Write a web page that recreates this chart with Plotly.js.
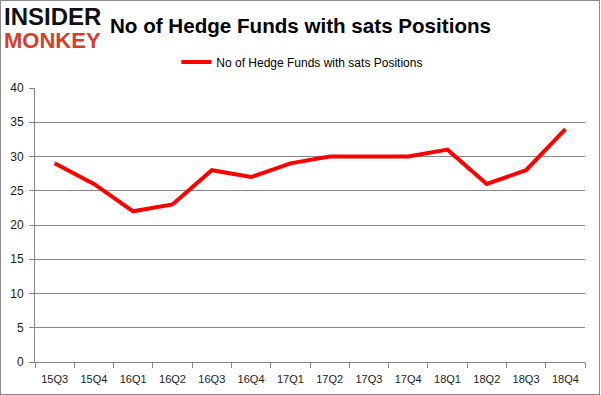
<!DOCTYPE html>
<html>
<head>
<meta charset="utf-8">
<script src="https://cdn.plot.ly/plotly-3.0.1.min.js"></script>
<style>
  html, body { margin: 0; padding: 0; background: #fff; }
  #wrap { position: relative; width: 601px; height: 395px; }
  #chart { position: absolute; left: 0; top: 0; width: 601px; height: 395px; }
  #frame { position: absolute; left: 0; top: 0; width: 600px; height: 395px; box-sizing: border-box; border: 1px solid #8c8c8c; pointer-events: none; }
</style>
</head>
<body>
<div id="wrap"><div id="chart"></div><div id="frame"></div></div>
<script>
const quarters = ["15Q3","15Q4","16Q1","16Q2","16Q3","16Q4","17Q1","17Q2","17Q3","17Q4","18Q1","18Q2","18Q3","18Q4"];
const hedgeFunds = [29, 26, 22, 23, 28, 27, 29, 30, 30, 30, 31, 26, 28, 34];
const seriesName = "No of Hedge Funds with sats Positions";
const chartTitle = "No of Hedge Funds with sats Positions";
const yTicks = [0, 5, 10, 15, 20, 25, 30, 35, 40];

const trace = {
  x: quarters,
  y: hedgeFunds,
  type: "scatter",
  mode: "lines",
  name: seriesName,
  line: { color: "#ff0000", width: 4 },
  showlegend: true
};

const layout = {
  width: 601,
  height: 395,
  margin: { l: 35, r: 16, t: 88, b: 33 },
  paper_bgcolor: "#ffffff",
  plot_bgcolor: "#ffffff",
  font: { family: "Liberation Sans, Arial, sans-serif", size: 11, color: "#1a1a1a" },
  title: {
    text: "<b>" + chartTitle + "</b>",
    font: { family: "Liberation Sans, Arial, sans-serif", size: 20.6, color: "#000" },
    x: 0.5, xref: "container", xanchor: "center",
    y: 0.934, yref: "container", yanchor: "middle"
  },
  showlegend: true,
  legend: {
    orientation: "h",
    x: 0.486, xanchor: "center",
    y: 1.095, yanchor: "middle",
    font: { size: 12, color: "#000" },
    bgcolor: "rgba(0,0,0,0)"
  },
  xaxis: {
    type: "category",
    range: [-0.5, quarters.length - 0.5],
    showgrid: false,
    showline: true,
    linecolor: "#868686",
    linewidth: 1,
    ticks: "outside",
    tickson: "boundaries",
    ticklen: 5,
    tickcolor: "#868686",
    ticklabelstandoff: 7,
    tickfont: { size: 11, color: "#1a1a1a" },
    zeroline: false,
    fixedrange: true
  },
  yaxis: {
    range: [0, 40],
    tickvals: yTicks,
    showgrid: true,
    gridcolor: "#868686",
    gridwidth: 1,
    showline: true,
    linecolor: "#868686",
    linewidth: 1,
    ticks: "outside",
    ticklen: 5,
    tickcolor: "#868686",
    ticklabelstandoff: 3,
    tickfont: { size: 12, color: "#1a1a1a" },
    zeroline: false,
    fixedrange: true
  },
  annotations: [
    {
      text: "<b><span style='font-size:24px;color:#111'>INSIDER</span></b><br><b><span style='font-size:22px;color:#d4402c'>MONKEY</span></b>",
      xref: "paper", yref: "paper",
      x: -0.06, y: 1.22, xanchor: "left", yanchor: "middle",
      align: "left",
      showarrow: false,
      font: { family: "Liberation Sans, Arial, sans-serif", size: 18, color: "#111" }
    }
  ]
};

Plotly.newPlot("chart", [trace], layout, { displayModeBar: false, staticPlot: true });
</script>
</body>
</html>
